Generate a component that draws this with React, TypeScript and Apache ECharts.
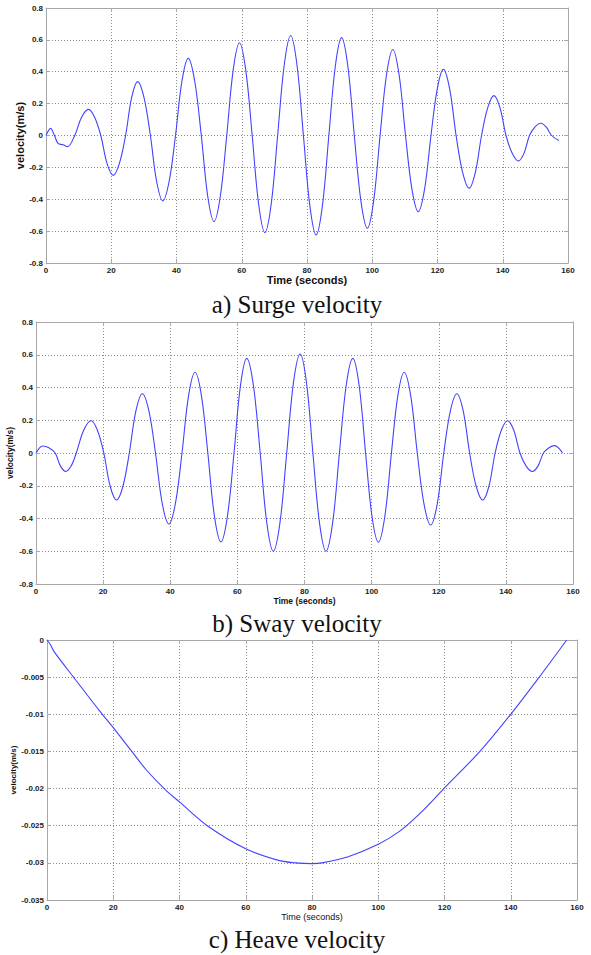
import React, { useEffect, useRef } from 'react';
import * as echarts from 'echarts';

// ---- data ----
const timeTicks = [0, 20, 40, 60, 80, 100, 120, 140, 160];

const surgeTime = [0, 1.4, 2.6, 3.7, 5.2, 6.6, 8.8, 10.9, 13.0, 14.9, 16.8, 18.7, 20.6, 22.5, 24.4, 26.25, 28.1, 30.05, 32.0, 33.9, 35.8, 37.75, 39.7, 41.65, 43.6, 45.6, 47.6, 49.55, 51.5, 53.45, 55.4, 57.35, 59.3, 61.25, 63.2, 65.15, 67.1, 69.05, 71.0, 73.0, 75.0, 76.95, 78.9, 80.85, 82.8, 84.75, 86.7, 88.65, 90.6, 92.55, 94.5, 96.5, 98.5, 100.45, 102.4, 104.35, 106.3, 108.25, 110.2, 112.15, 114.1, 116.05, 118.0, 119.9, 121.8, 123.75, 125.7, 127.7, 129.7, 131.6, 133.5, 135.4, 137.3, 139.15, 141.0, 142.9, 144.8, 146.5, 148.2, 149.9, 151.6, 153.3, 155.0, 157.2];
const surgeVel = [0, 0.045, 0, -0.05, -0.058, -0.07, 0, 0.115, 0.164, 0.115, 0, -0.175, -0.25, -0.175, 0, 0.237, 0.338, 0.237, 0, -0.287, -0.41, -0.287, 0, 0.339, 0.484, 0.339, 0, -0.378, -0.54, -0.378, 0, 0.407, 0.582, 0.407, 0, -0.427, -0.61, -0.427, 0, 0.439, 0.627, 0.439, 0, -0.437, -0.624, -0.437, 0, 0.43, 0.614, 0.43, 0, -0.407, -0.582, -0.407, 0, 0.378, 0.54, 0.378, 0, -0.335, -0.478, -0.335, 0, 0.29, 0.415, 0.29, 0, -0.231, -0.33, -0.231, 0, 0.175, 0.25, 0.175, 0, -0.112, -0.16, -0.112, 0, 0.054, 0.077, 0.054, 0, -0.032];

const swayTime = [0, 2.0, 3.7, 5.7, 7.3, 8.9, 10.45, 12.0, 14.2, 16.4, 18.3, 20.2, 22.1, 24.0, 25.9, 27.8, 29.75, 31.7, 33.65, 35.6, 37.6, 39.6, 41.55, 43.5, 45.45, 47.4, 49.3, 51.2, 53.15, 55.1, 57.05, 59.0, 60.9, 62.8, 64.8, 66.8, 68.75, 70.7, 72.7, 74.7, 76.7, 78.7, 80.6, 82.5, 84.45, 86.4, 88.4, 90.4, 92.4, 94.4, 96.3, 98.2, 100.1, 102.0, 103.95, 105.9, 107.8, 109.7, 111.65, 113.6, 115.6, 117.6, 119.55, 121.5, 123.45, 125.4, 127.3, 129.2, 131.15, 133.1, 134.95, 136.8, 138.65, 140.5, 142.35, 144.2, 146.05, 147.9, 149.55, 151.2, 152.85, 154.5, 156.9];
const swayVel = [0, 0.043, 0.033, 0, -0.08, -0.113, -0.08, 0, 0.139, 0.197, 0.139, 0, -0.203, -0.287, -0.203, 0, 0.256, 0.362, 0.256, 0, -0.307, -0.434, -0.307, 0, 0.349, 0.493, 0.349, 0, -0.384, -0.543, -0.384, 0, 0.409, 0.578, 0.409, 0, -0.424, -0.6, -0.424, 0, 0.428, 0.605, 0.428, 0, -0.424, -0.6, -0.424, 0, 0.409, 0.578, 0.409, 0, -0.385, -0.545, -0.385, 0, 0.349, 0.493, 0.349, 0, -0.311, -0.44, -0.311, 0, 0.256, 0.362, 0.256, 0, -0.203, -0.287, -0.203, 0, 0.139, 0.197, 0.139, 0, -0.08, -0.113, -0.08, 0, 0.032, 0.045, 0];

const heaveTime = [0, 1.0, 2.2, 8, 15.8, 20, 25.6, 30, 35.6, 40, 48.4, 60, 70.2, 75, 80, 83, 90.7, 100, 106.6, 113.4, 119.8, 130.7, 140, 148.6, 156.9];
const heaveVel = [0, -0.0006, -0.0016, -0.005, -0.0095, -0.0118, -0.015, -0.0175, -0.0201, -0.0218, -0.025, -0.0281, -0.0297, -0.03, -0.0301, -0.03, -0.0292, -0.0275, -0.0257, -0.023, -0.02, -0.015, -0.01, -0.005, 0];

const surgeTicks = [-0.8, 0.8, 0.2];
const swayTicks = [-0.8, 0.8, 0.2];
const heaveTicks = [-0.035, 0, 0.005];

const captions = ['a) Surge velocity', 'b) Sway velocity', 'c) Heave velocity'];
const yName = 'velocity(m/s)';
const xName = 'Time (seconds)';

function pairs(t: number[], v: number[]) {
  return t.map((x, i) => [x, v[i]]);
}

const SANS = 'Liberation Sans, Arial, sans-serif';
const SERIF = 'Liberation Serif, Times New Roman, serif';
const BOX = '#a8a8a8';
const GRIDC = '#8c8c8c';
const LINE = '#4242ff';

function fmt(v: number) {
  const r = Math.round(v * 100000) / 100000;
  return String(r);
}

function xAxes(gi: number) {
  const base = {
    type: 'value',
    gridIndex: gi,
    min: timeTicks[0],
    max: timeTicks[timeTicks.length - 1],
    interval: timeTicks[1] - timeTicks[0],
    axisLine: { show: true, onZero: false, lineStyle: { color: BOX, width: 1 } },
    axisTick: { show: true, inside: true, length: 4, lineStyle: { color: BOX } },
  };
  return [
    {
      ...base,
      position: 'bottom',
      axisLabel: { show: true, fontFamily: SANS, fontWeight: 'bold', fontSize: 8, color: '#222', margin: 3 },
      splitLine: { show: true, lineStyle: { color: GRIDC, type: [1, 2], width: 1 } },
    },
    {
      ...base,
      position: 'top',
      axisLabel: { show: false },
      splitLine: { show: false },
    },
  ];
}

function yAxes(gi: number, ticks: number[]) {
  const base = {
    type: 'value',
    gridIndex: gi,
    min: ticks[0],
    max: ticks[1],
    interval: ticks[2],
    axisLine: { show: true, onZero: false, lineStyle: { color: BOX, width: 1 } },
    axisTick: { show: true, inside: true, length: 4, lineStyle: { color: BOX } },
  };
  return [
    {
      ...base,
      position: 'left',
      axisLabel: { show: true, fontFamily: SANS, fontWeight: 'bold', fontSize: 8, color: '#222', margin: 3, formatter: fmt },
      splitLine: { show: true, lineStyle: { color: GRIDC, type: [1, 2], width: 1 } },
    },
    {
      ...base,
      position: 'right',
      axisLabel: { show: false },
      splitLine: { show: false },
    },
  ];
}

function txt(x: number, y: number, text: string, font: string, rotate = false) {
  return {
    type: 'text',
    x,
    y,
    rotation: rotate ? Math.PI / 2 : 0,
    style: { text, font, fill: '#111', textAlign: 'center', textVerticalAlign: 'middle' },
    silent: true,
  };
}

export default function App() {
  const ref = useRef<HTMLDivElement>(null);
  useEffect(() => {
    if (!ref.current) return;
    const chart = echarts.init(ref.current, null, { renderer: 'svg' });
    const option: any = {
      animation: false,
      backgroundColor: '#fff',
      grid: [
        { left: 46, top: 8, width: 522, height: 255, show: false },
        { left: 36, top: 322, width: 537, height: 262, show: false },
        { left: 47, top: 640, width: 530, height: 260, show: false },
      ],
      xAxis: [...xAxes(0), ...xAxes(1), ...xAxes(2)],
      yAxis: [...yAxes(0, surgeTicks), ...yAxes(1, swayTicks), ...yAxes(2, heaveTicks)],
      series: [
        {
          type: 'line', xAxisIndex: 0, yAxisIndex: 0, data: pairs(surgeTime, surgeVel),
          showSymbol: false, smooth: 0.35, lineStyle: { color: LINE, width: 1.1 },
        },
        {
          type: 'line', xAxisIndex: 2, yAxisIndex: 2, data: pairs(swayTime, swayVel),
          showSymbol: false, smooth: 0.35, lineStyle: { color: LINE, width: 1.1 },
        },
        {
          type: 'line', xAxisIndex: 4, yAxisIndex: 4, data: pairs(heaveTime, heaveVel),
          showSymbol: false, smooth: 0.3, lineStyle: { color: LINE, width: 1.1 },
        },
      ],
      graphic: [
        txt(20, 135.5, yName, `bold 11px ${SANS}`, true),
        txt(307, 280, xName, `bold 11px ${SANS}`),
        txt(297, 304, captions[0], `25px ${SERIF}`),
        txt(10, 453, yName, `bold 8.5px ${SANS}`, true),
        txt(304.5, 600.5, xName, `bold 8.5px ${SANS}`),
        txt(297, 623, captions[1], `25px ${SERIF}`),
        txt(13, 770, yName, `bold 8px ${SANS}`, true),
        txt(312, 916.5, xName, `9px ${SANS}`),
        txt(297, 939, captions[2], `25px ${SERIF}`),
      ],
    };
    chart.setOption(option);
    return () => chart.dispose();
  }, []);
  return (
    <div
      ref={ref}
      style={{ position: 'absolute', left: 0, top: 0, width: 591, height: 955, background: '#fff' }}
    />
  );
}
